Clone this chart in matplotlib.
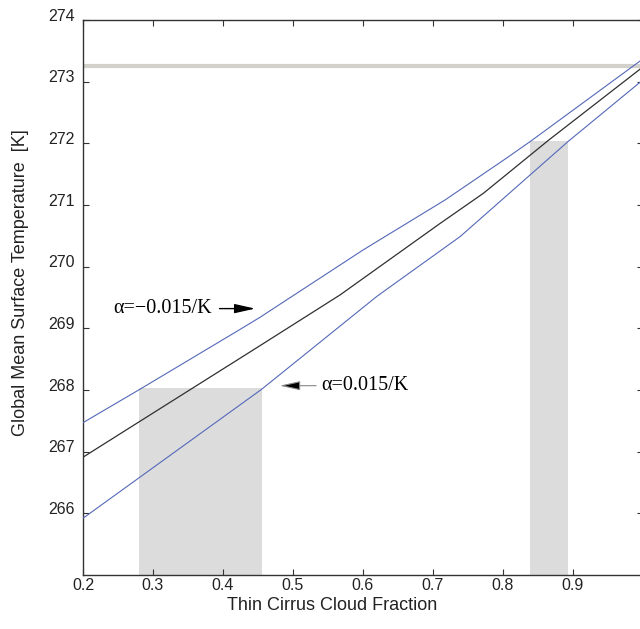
import matplotlib
matplotlib.use('Agg')
import matplotlib.pyplot as plt
from matplotlib.transforms import ScaledTranslation

# ---- data ----
upper_x = [0.2, 0.281, 0.424, 0.453, 0.6, 0.717, 0.805, 0.839, 1.0]
upper_y = [267.47, 268.01, 268.98, 269.18, 270.27, 271.08, 271.76, 272.03, 273.37]

mid_x = [0.2, 0.281, 0.453, 0.567, 0.71, 0.772, 0.865, 1.0]
mid_y = [266.91, 267.49, 268.72, 269.54, 270.70, 271.19, 272.05, 273.24]

lower_x = [0.2, 0.455, 0.62, 0.739, 0.793, 0.893, 1.0]
lower_y = [265.92, 268.01, 269.52, 270.49, 271.03, 272.03, 273.03]

shade_left = [0.28, 0.838]
shade_right = [0.455, 0.893]
shade_top = [268.03, 272.03]

freezing = 273.25

xticks = [0.2, 0.3, 0.4, 0.5, 0.6, 0.7, 0.8, 0.9]
xticklabels = ['0.2', '0.3', '0.4', '0.5', '0.6', '0.7', '0.8', '0.9']
yticks = [266, 267, 268, 269, 270, 271, 272, 273, 274]
yticklabels = ['266', '267', '268', '269', '270', '271', '272', '273', '274']

xmin, xmax = 0.2, 1.0
ymin, ymax = 265.0, 274.0

# ---- figure ----
W, H = 640, 629
fig = plt.figure(figsize=(W / 100, H / 100), dpi=100)
ax = fig.add_axes([83 / W, (H - 575) / H, 560 / W, 555 / H])

# shaded boxes
for l, r, t in zip(shade_left, shade_right, shade_top):
    ax.bar(l, t - ymin, width=r - l, bottom=ymin, align='edge',
           color='#dcdcdc', edgecolor='none', zorder=1)

ax.axhline(freezing, color='#d3d1cb', lw=3.0, zorder=2)

blue = '#5468b8'
ax.plot(upper_x, upper_y, color=blue, lw=0.8, zorder=3)
ax.plot(lower_x, lower_y, color=blue, lw=0.8, zorder=3)
ax.plot(mid_x, mid_y, color='#303030', lw=0.9, zorder=3)

ax.set_xlim(xmin, xmax)
ax.set_ylim(ymin, ymax)

ax.set_xticks(xticks)
ax.set_xticklabels(xticklabels)
ax.set_yticks(yticks)
ax.set_yticklabels(yticklabels)

tick_font = 'Liberation Sans'
ax.tick_params(direction='in', length=4, width=0.8, color='#333333',
               labelsize=11.5, labelcolor='#222222', top=True, right=True)
ax.tick_params(axis='y', pad=6)
ax.tick_params(axis='x', pad=2)
for lab in ax.get_xticklabels() + ax.get_yticklabels():
    lab.set_fontfamily(tick_font)
for lab in ax.get_yticklabels():
    lab.set_transform(lab.get_transform() + ScaledTranslation(0, 0.055, fig.dpi_scale_trans))

for s in ax.spines.values():
    s.set_color('#333333')
    s.set_linewidth(1.0)

# axis labels
fig.text(332 / W, 1 - 606 / H, 'Thin Cirrus Cloud Fraction', ha='center', va='center',
         fontsize=13, family='Liberation Sans', color='#222222')
fig.text(21 / W, 1 - 283 / H, 'Global Mean Surface Temperature  [K]', ha='center',
         va='center', rotation=90, fontsize=13, family='Liberation Sans', color='#222222')

# annotations
head = '-|>,head_length=1.25,head_width=0.28'
ax.text(0.243, 269.32, 'α=−0.015/K', ha='left', va='center', fontsize=14.5,
        family='Liberation Serif', color='black')
ax.annotate('', xy=(0.446, 269.32), xytext=(0.395, 269.32),
            arrowprops=dict(arrowstyle=head, color='black', lw=1.0, mutation_scale=10,
                            shrinkA=0, shrinkB=0))

ax.text(0.541, 268.07, 'α=0.015/K', ha='left', va='center', fontsize=14.5,
        family='Liberation Serif', color='black')
ax.annotate('', xy=(0.481, 268.07), xytext=(0.533, 268.07),
            arrowprops=dict(arrowstyle=head, fc='black', ec='#888888', lw=0.8,
                            mutation_scale=10, shrinkA=0, shrinkB=0))

fig.savefig('out.png', dpi=100)
